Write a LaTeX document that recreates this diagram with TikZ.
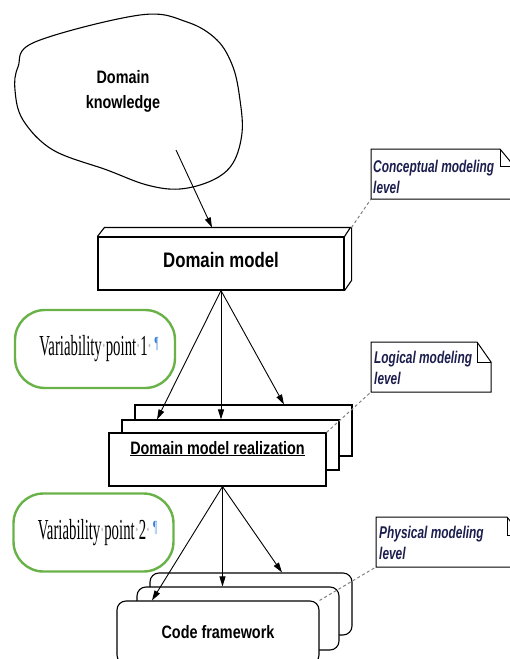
\documentclass[tikz,border=0pt]{standalone}
\usepackage{fontspec}
\usetikzlibrary{arrows.meta}
\newfontfamily\boxfont[FakeStretch=0.8]{Liberation Sans}
\newfontfamily\notefont[FakeStretch=0.7]{Liberation Sans}
\newfontfamily\vpfont[FakeStretch=0.51]{Liberation Serif}
\definecolor{vpgreen}{RGB}{104,178,72}
\definecolor{notetext}{RGB}{28,30,78}
\definecolor{pilcrow}{RGB}{60,130,220}
\newcommand{\vpdot}{\makebox[4pt]{\textcolor{gray!50}{\textperiodcentered}}}
\newcommand{\vplabel}[1]{\hspace*{8pt}Variability\vpdot point\vpdot #1\vpdot\hspace{3pt}\textcolor{pilcrow}{\fontsize{17}{17}\selectfont\raisebox{7pt}{¶}}}
\begin{document}
\begin{tikzpicture}[x=1pt,y=-1pt,
    box/.style={draw,fill=white,line width=1.1pt,inner sep=0pt},
    codebox/.style={box,rounded corners=9pt},
    vpbox/.style={draw=vpgreen,line width=2.4pt,rounded corners=30pt,inner sep=0pt,
      minimum width=160pt,minimum height=78pt,font=\vpfont\fontsize{29}{29}\selectfont},
    notetxt/.style={anchor=north west,align=left,inner sep=0pt,text=notetext,
      font=\notefont\bfseries\itshape\fontsize{17}{21}\selectfont},
    tip/.style={-{Triangle[length=10pt,width=6pt]},line width=0.9pt},
    link/.style={gray,line width=1pt,dash pattern=on 3pt off 2.5pt}]
  \useasboundingbox (0,0) rectangle (510,659);
  \draw[line width=1.1pt] plot[smooth cycle,tension=0.6] coordinates {
    (35,42) (140,15) (187,22) (217,40) (233,67) (240,100) (242,133) (233,163)
    (213,180) (180,189) (147,185) (107,170) (53,150) (23,120) (15,90) (18,67)};
  \draw
    (123,91) node[align=center,font=\boxfont\bfseries\fontsize{18}{25}\selectfont] (knowledge){Domain\\knowledge}
    (176,150) coordinate (kstart)
    (221,263.5) node[box,minimum width=246pt,minimum height=53pt,text height=15pt,text depth=8pt,
      font=\boxfont\bfseries\fontsize{21}{21}\selectfont] (dmodel){Domain model}
    (243.5,430.5) node[box,minimum width=217pt,minimum height=51pt] (real3){}
    (230.5,445) node[box,minimum width=217pt,minimum height=50pt] (real2){}
    (217.5,459.5) node[box,minimum width=217pt,minimum height=53pt] (real1){}
    (217.5,454) node[anchor=base,font=\boxfont\bfseries\fontsize{18}{18}\selectfont] (realtext){\underline{Domain model realization}}
    (251,604) node[codebox,minimum width=202pt,minimum height=62pt] (code3){}
    (238,618.5) node[codebox,minimum width=202pt,minimum height=63pt] (code2){}
    (218,632.5) node[codebox,minimum width=202pt,minimum height=63pt,
      font=\boxfont\bfseries\fontsize{18}{18}\selectfont] (code1){Code framework}
    (95,349) node[vpbox] (vp1){\vplabel{1}}
    (93.5,532.5) node[vpbox] (vp2){\vplabel{2}}
    (373,160) node[notetxt] (cnote){Conceptual modeling\\level}
    (374,351) node[notetxt] (lnote){Logical modeling\\level}
    (379,526) node[notetxt] (pnote){Physical modeling\\level};
  \draw[line width=1.1pt] (dmodel.north west) -- ++(7,-9) -- ++(246,0) -- (dmodel.north east)
    ++(7,-9) -- ++(0,53) -- (dmodel.south east);
  \begin{scope}[line width=1pt]
    \draw (371,149) -- (500,149) -- (514,166) -- (514,199) -- (371,199) -- cycle;
    \draw (500,149) -- (500,166) -- (514,166);
    \draw (371,342) -- (477,342) -- (491,362) -- (491,392) -- (371,392) -- cycle;
    \draw (477,342) -- (477,362) -- (491,362);
    \draw (376,517) -- (507,517) -- (521,535) -- (521,567) -- (376,567) -- cycle;
    \draw (507,517) -- (507,535) -- (521,535);
  \end{scope}
  \coordinate (cnotecorner) at (371,199);
  \coordinate (lnotecorner) at (371,392);
  \coordinate (pnotecorner) at (376,567);
  \begin{scope}[tip]
    \draw (kstart) to ([shift={(-9,-9)}]dmodel.north);
    \draw (dmodel.south) to (157,0 |- real2.north);
    \draw (dmodel.south) to (dmodel.south |- real2.north);
    \draw (dmodel.south) to (284,0 |- real3.north);
    \draw ([xshift=5pt]real1.south) to (152,0 |- code1.north);
    \draw ([xshift=5pt]real1.south) to ([xshift=5pt]real1.south |- code2.north);
    \draw ([xshift=5pt]real1.south) to (282,0 |- code3.north);
  \end{scope}
  \begin{scope}[link]
    \draw ([shift={(7,-9)}]dmodel.north east) to (cnotecorner);
    \draw (real1.north east) to (lnotecorner);
    \draw (code1.north east) to (pnotecorner);
  \end{scope}
\end{tikzpicture}
\end{document}
